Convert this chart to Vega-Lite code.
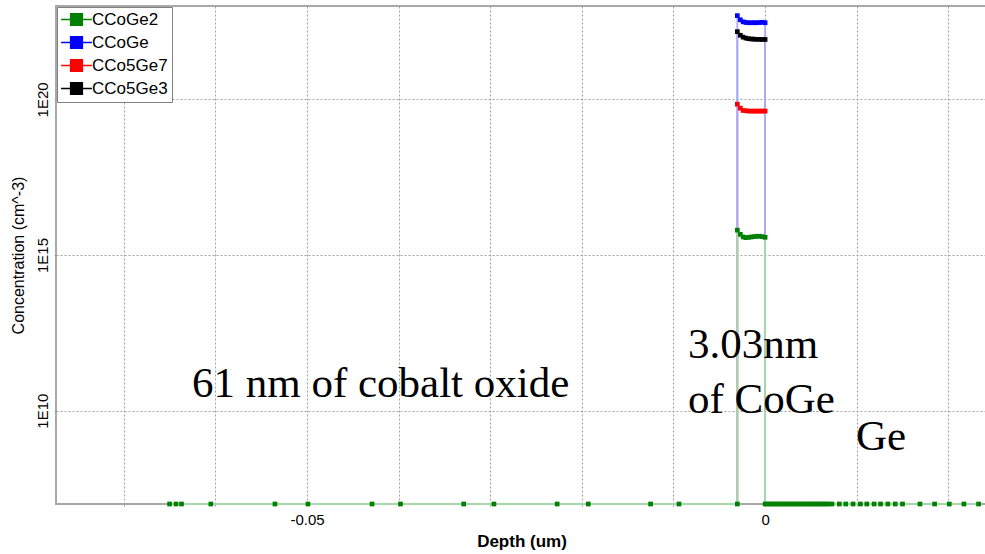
{
  "$schema": "https://vega.github.io/schema/vega-lite/v6.json",
  "width": 931,
  "height": 498,
  "autosize": "none",
  "padding": {"left": 56, "top": 6, "right": 0, "bottom": 50},
  "background": "white",
  "config": {"view": {"stroke": "#a8a8a8", "strokeWidth": 2}, "font": "Liberation Sans"},
  "datasets": {
    "series": [
      {"s":"CCo5Ge3","i":0,"x":-0.00303,"y":1e7},
      {"s":"CCo5Ge3","i":1,"x":-0.00303,"y":1.5e22},
      {"s":"CCo5Ge3","i":2,"x":-0.0027,"y":1.15e22},
      {"s":"CCo5Ge3","i":3,"x":-0.0024,"y":1.0e22},
      {"s":"CCo5Ge3","i":4,"x":-0.0021,"y":9.3e21},
      {"s":"CCo5Ge3","i":5,"x":-0.0018,"y":8.9e21},
      {"s":"CCo5Ge3","i":6,"x":-0.0015,"y":8.7e21},
      {"s":"CCo5Ge3","i":7,"x":-0.0012,"y":8.6e21},
      {"s":"CCo5Ge3","i":8,"x":-0.0009,"y":8.5e21},
      {"s":"CCo5Ge3","i":9,"x":-0.0006,"y":8.5e21},
      {"s":"CCo5Ge3","i":10,"x":-0.0003,"y":8.4e21},
      {"s":"CCo5Ge3","i":11,"x":0,"y":8.4e21},
      {"s":"CCo5Ge3","i":12,"x":0,"y":1e7},
      {"s":"CCo5Ge7","i":0,"x":-0.00303,"y":1e7},
      {"s":"CCo5Ge7","i":1,"x":-0.00303,"y":7.0e19},
      {"s":"CCo5Ge7","i":2,"x":-0.0027,"y":5.2e19},
      {"s":"CCo5Ge7","i":3,"x":-0.0024,"y":4.4e19},
      {"s":"CCo5Ge7","i":4,"x":-0.0021,"y":4.3e19},
      {"s":"CCo5Ge7","i":5,"x":-0.0018,"y":4.2e19},
      {"s":"CCo5Ge7","i":6,"x":-0.0015,"y":4.2e19},
      {"s":"CCo5Ge7","i":7,"x":-0.0012,"y":4.2e19},
      {"s":"CCo5Ge7","i":8,"x":-0.0009,"y":4.2e19},
      {"s":"CCo5Ge7","i":9,"x":-0.0006,"y":4.2e19},
      {"s":"CCo5Ge7","i":10,"x":-0.0003,"y":4.2e19},
      {"s":"CCo5Ge7","i":11,"x":0,"y":4.2e19},
      {"s":"CCo5Ge7","i":12,"x":0,"y":1e7},
      {"s":"CCoGe","i":0,"x":-0.00303,"y":1e7},
      {"s":"CCoGe","i":1,"x":-0.00303,"y":4.9e22},
      {"s":"CCoGe","i":2,"x":-0.0027,"y":3.6e22},
      {"s":"CCoGe","i":3,"x":-0.0024,"y":3.1e22},
      {"s":"CCoGe","i":4,"x":-0.0021,"y":2.95e22},
      {"s":"CCoGe","i":5,"x":-0.0018,"y":2.9e22},
      {"s":"CCoGe","i":6,"x":-0.0015,"y":2.9e22},
      {"s":"CCoGe","i":7,"x":-0.0012,"y":2.9e22},
      {"s":"CCoGe","i":8,"x":-0.0009,"y":2.9e22},
      {"s":"CCoGe","i":9,"x":-0.0006,"y":2.95e22},
      {"s":"CCoGe","i":10,"x":-0.0003,"y":3.0e22},
      {"s":"CCoGe","i":11,"x":0,"y":2.9e22},
      {"s":"CCoGe","i":12,"x":0,"y":1e7},
      {"s":"CCoGe2","i":0,"x":-0.065,"y":1e7},
      {"s":"CCoGe2","i":1,"x":-0.0643,"y":1e7},
      {"s":"CCoGe2","i":2,"x":-0.0637,"y":1e7},
      {"s":"CCoGe2","i":3,"x":-0.0605,"y":1e7},
      {"s":"CCoGe2","i":4,"x":-0.0535,"y":1e7},
      {"s":"CCoGe2","i":5,"x":-0.0499,"y":1e7},
      {"s":"CCoGe2","i":6,"x":-0.0429,"y":1e7},
      {"s":"CCoGe2","i":7,"x":-0.0398,"y":1e7},
      {"s":"CCoGe2","i":8,"x":-0.0329,"y":1e7},
      {"s":"CCoGe2","i":9,"x":-0.0296,"y":1e7},
      {"s":"CCoGe2","i":10,"x":-0.0227,"y":1e7},
      {"s":"CCoGe2","i":11,"x":-0.0193,"y":1e7},
      {"s":"CCoGe2","i":12,"x":-0.0125,"y":1e7},
      {"s":"CCoGe2","i":13,"x":-0.0094,"y":1e7},
      {"s":"CCoGe2","i":14,"x":-0.00303,"y":1e7},
      {"s":"CCoGe2","i":15,"x":-0.00303,"y":6.3e15},
      {"s":"CCoGe2","i":16,"x":-0.0027,"y":4.6e15},
      {"s":"CCoGe2","i":17,"x":-0.0024,"y":3.8e15},
      {"s":"CCoGe2","i":18,"x":-0.0021,"y":3.6e15},
      {"s":"CCoGe2","i":19,"x":-0.0018,"y":3.7e15},
      {"s":"CCoGe2","i":20,"x":-0.0015,"y":3.8e15},
      {"s":"CCoGe2","i":21,"x":-0.0012,"y":3.9e15},
      {"s":"CCoGe2","i":22,"x":-0.0009,"y":4.0e15},
      {"s":"CCoGe2","i":23,"x":-0.0006,"y":4.0e15},
      {"s":"CCoGe2","i":24,"x":-0.0003,"y":3.9e15},
      {"s":"CCoGe2","i":25,"x":0,"y":3.7e15},
      {"s":"CCoGe2","i":26,"x":0,"y":1e7},
      {"s":"CCoGe2","i":27,"x":0.0003,"y":1e7},
      {"s":"CCoGe2","i":28,"x":0.0006,"y":1e7},
      {"s":"CCoGe2","i":29,"x":0.0009,"y":1e7},
      {"s":"CCoGe2","i":30,"x":0.0012,"y":1e7},
      {"s":"CCoGe2","i":31,"x":0.0015,"y":1e7},
      {"s":"CCoGe2","i":32,"x":0.0018,"y":1e7},
      {"s":"CCoGe2","i":33,"x":0.0021,"y":1e7},
      {"s":"CCoGe2","i":34,"x":0.0024,"y":1e7},
      {"s":"CCoGe2","i":35,"x":0.0027,"y":1e7},
      {"s":"CCoGe2","i":36,"x":0.003,"y":1e7},
      {"s":"CCoGe2","i":37,"x":0.0033,"y":1e7},
      {"s":"CCoGe2","i":38,"x":0.0036,"y":1e7},
      {"s":"CCoGe2","i":39,"x":0.0039,"y":1e7},
      {"s":"CCoGe2","i":40,"x":0.0042,"y":1e7},
      {"s":"CCoGe2","i":41,"x":0.0045,"y":1e7},
      {"s":"CCoGe2","i":42,"x":0.0048,"y":1e7},
      {"s":"CCoGe2","i":43,"x":0.0051,"y":1e7},
      {"s":"CCoGe2","i":44,"x":0.0054,"y":1e7},
      {"s":"CCoGe2","i":45,"x":0.0057,"y":1e7},
      {"s":"CCoGe2","i":46,"x":0.006,"y":1e7},
      {"s":"CCoGe2","i":47,"x":0.0063,"y":1e7},
      {"s":"CCoGe2","i":48,"x":0.0066,"y":1e7},
      {"s":"CCoGe2","i":49,"x":0.0069,"y":1e7},
      {"s":"CCoGe2","i":50,"x":0.0073,"y":1e7},
      {"s":"CCoGe2","i":51,"x":0.0081,"y":1e7},
      {"s":"CCoGe2","i":52,"x":0.0088,"y":1e7},
      {"s":"CCoGe2","i":53,"x":0.0096,"y":1e7},
      {"s":"CCoGe2","i":54,"x":0.0104,"y":1e7},
      {"s":"CCoGe2","i":55,"x":0.0111,"y":1e7},
      {"s":"CCoGe2","i":56,"x":0.0119,"y":1e7},
      {"s":"CCoGe2","i":57,"x":0.0126,"y":1e7},
      {"s":"CCoGe2","i":58,"x":0.0134,"y":1e7},
      {"s":"CCoGe2","i":59,"x":0.0142,"y":1e7},
      {"s":"CCoGe2","i":60,"x":0.015,"y":1e7},
      {"s":"CCoGe2","i":61,"x":0.0169,"y":1e7},
      {"s":"CCoGe2","i":62,"x":0.0185,"y":1e7},
      {"s":"CCoGe2","i":63,"x":0.0201,"y":1e7},
      {"s":"CCoGe2","i":64,"x":0.0217,"y":1e7},
      {"s":"CCoGe2","i":65,"x":0.0233,"y":1e7}
    ],
    "notes": [
      {"t":"61 nm of cobalt oxide","x":-0.06256,"y":2.75e10},
      {"t":"3.03nm","x":-0.00842,"y":4.9e11},
      {"t":"of CoGe","x":-0.00842,"y":8.3e9},
      {"t":"Ge","x":0.00992,"y":5.4e8}
    ]
  },
  "layer": [
    {
      "data": {"name": "series"},
      "mark": {"type": "line", "strokeWidth": 1.8},
      "encoding": {
        "x": {
          "field": "x", "type": "quantitative",
          "scale": {"domain": [-0.0774, 0.02422], "nice": false, "zero": false},
          "axis": {
            "values": [-0.07, -0.06, -0.05, -0.04, -0.03, -0.02, -0.01, 0, 0.01, 0.02],
            "labelExpr": "abs(datum.value + 0.05) < 1e-9 ? '-0.05' : (abs(datum.value) < 1e-9 ? '0' : '')",
            "title": "Depth (um)",
            "titleFont": "Liberation Sans", "titleFontSize": 17, "titleFontWeight": "bold", "titleColor": "black",
            "titlePadding": 6,
            "labelFont": "Liberation Sans", "labelFontSize": 15, "labelColor": "black", "labelPadding": 4,
            "labelFlush": false, "labelOverlap": false,
            "grid": true, "gridColor": "#a0a0a0", "gridDash": [2, 2], "gridWidth": 1,
            "ticks": true, "tickColor": "#a0a0a0", "tickDash": [2, 2], "tickSize": 4,
            "domain": false
          }
        },
        "y": {
          "field": "y", "type": "quantitative",
          "scale": {"type": "log", "domain": [1e7, 1e23], "nice": false},
          "axis": {
            "values": [1e10, 1e15, 1e20],
            "labelExpr": "'1E' + round(log(datum.value) / LN10)",
            "title": "Concentration (cm^-3)",
            "titleFont": "Liberation Sans", "titleFontSize": 16, "titleFontWeight": "normal", "titleColor": "black",
            "titlePadding": 9,
            "labelFont": "Liberation Sans", "labelFontSize": 15, "labelColor": "black",
            "labelAngle": -90, "labelAlign": "center", "labelBaseline": "bottom", "labelPadding": 2,
            "grid": true, "gridColor": "#a0a0a0", "gridDash": [2, 2], "gridWidth": 1,
            "ticks": true, "tickColor": "#a0a0a0", "tickDash": [2, 2], "tickSize": 4,
            "domain": false
          }
        },
        "stroke": {
          "field": "s", "type": "nominal",
          "scale": {"domain": ["CCo5Ge3", "CCo5Ge7", "CCoGe", "CCoGe2"], "range": ["#a8a8a8", "#ffa8a8", "#a8a8ff", "#a8d8a8"]},
          "legend": null
        },
        "order": {"field": "i", "type": "quantitative"}
      }
    },
    {
      "data": {"name": "series"},
      "transform": [{"filter": "datum.s === 'CCoGe2' || datum.y > 1e7"}],
      "mark": {"type": "point", "shape": "square", "filled": true, "size": 22, "opacity": 1},
      "encoding": {
        "x": {"field": "x", "type": "quantitative"},
        "y": {"field": "y", "type": "quantitative"},
        "color": {
          "field": "s", "type": "nominal",
          "scale": {"domain": ["CCoGe2", "CCoGe", "CCo5Ge7", "CCo5Ge3"], "range": ["#008000", "#0000ff", "#ff0000", "#000000"]},
          "legend": {
            "orient": "none", "legendX": 1, "legendY": 1, "title": null,
            "symbolType": "M-2.2,0H2.2M-0.85,-0.85H0.85V0.85H-0.85Z",
            "symbolSize": 196, "symbolStrokeWidth": 1.3, "symbolOpacity": 1,
            "symbolOffset": 7,
            "labelFont": "Liberation Sans", "labelFontSize": 17, "labelColor": "black", "labelOffset": 7,
            "rowPadding": 4, "padding": 4,
            "fillColor": "white", "strokeColor": "#808080",
            "encode": {"symbols": {"update": {"stroke": {"scale": "color", "field": "value"}, "strokeWidth": {"value": 1.3}}}}
          }
        }
      }
    },
    {
      "data": {"name": "notes"},
      "mark": {"type": "text", "font": "Liberation Serif", "fontSize": 43, "align": "left", "baseline": "alphabetic", "color": "black"},
      "encoding": {
        "x": {"field": "x", "type": "quantitative"},
        "y": {"field": "y", "type": "quantitative"},
        "text": {"field": "t"}
      }
    }
  ]
}
